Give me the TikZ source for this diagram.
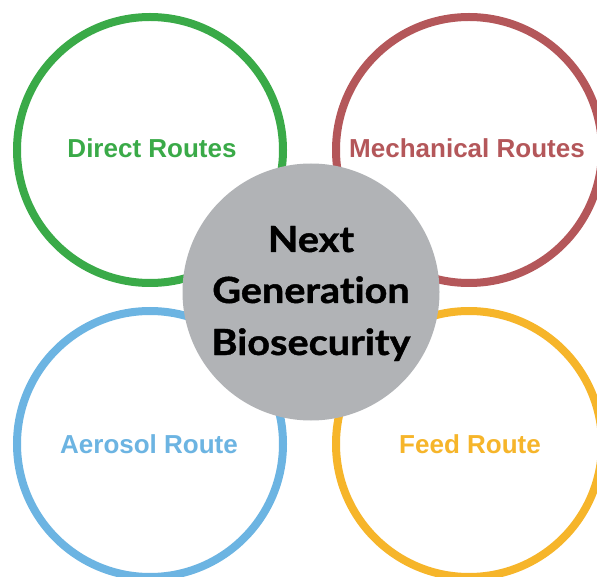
\documentclass[tikz,border=0pt]{standalone}
\usepackage{fontspec}
\setmainfont{Liberation Sans}
\newfontfamily\centerfont[Ligatures={NoCommon},BoldFeatures={FakeStretch=1.1,FakeBold=1.2}]{Lato}
\definecolor{cgreen}{HTML}{3AAA48}
\definecolor{cred}{HTML}{B4575A}
\definecolor{cblue}{HTML}{6CB4E2}
\definecolor{cyellow}{HTML}{F6B52A}
\definecolor{cgray}{HTML}{B1B3B6}
\begin{document}
\begin{tikzpicture}[x=1pt,y=-1pt,
  ring/.style={circle, draw=#1, line width=8pt, fill=white, minimum size=266pt, inner sep=0pt},
  lbl/.style={anchor=base, inner sep=0pt, text=#1, font=\fontsize{26}{30}\selectfont\bfseries},
  hub/.style={circle, fill=cgray, minimum size=257pt, inner sep=0pt},
  hubtext/.style={anchor=base, inner sep=0pt, font=\centerfont\fontsize{36}{51}\selectfont\bfseries}]
\useasboundingbox (0,0) rectangle (597,577);
\node[ring=cgreen] (g) at (150,150) {};
\node[ring=cred] (r) at (469,150) {};
\node[ring=cblue] (b) at (150,444) {};
\node[ring=cyellow] (y) at (469,444) {};
\node[hub] (h) at (311,292) {};
\node[lbl=cgreen] (gl) at (152,158) {Direct Routes};
\node[lbl=cred] (rl) at (467,158) {Mechanical Routes};
\node[lbl=cblue] (bl) at (149,453) {Aerosol Route};
\node[lbl=cyellow] (yl) at (470,453) {Feed Route};
\node[hubtext] (t1) at (311,252) {Next};
\node[hubtext] (t2) at (311,303) {Generation};
\node[hubtext] (t3) at (311,355) {Biosecurity};
\end{tikzpicture}
\end{document}
